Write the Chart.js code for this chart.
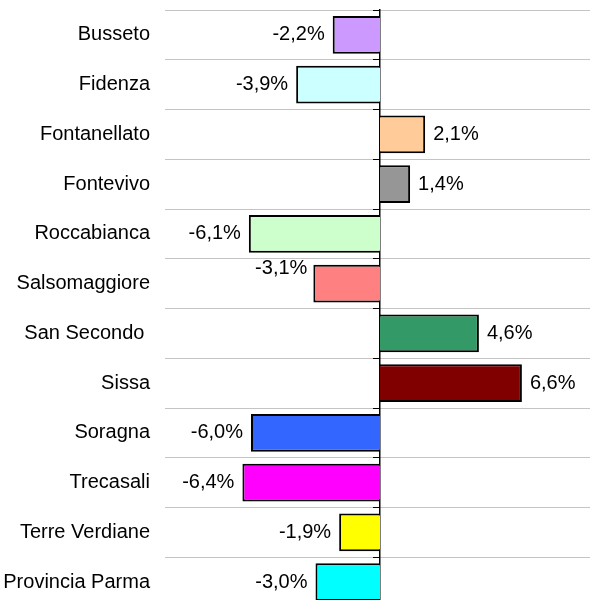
<!DOCTYPE html>
<html>
<head>
<meta charset="utf-8">
<script src="https://cdn.jsdelivr.net/npm/chart.js@4.4.1/dist/chart.umd.min.js"></script>
<style>
  html, body { margin: 0; padding: 0; background: #fff; }
  #wrap { width: 590px; height: 600px; overflow: hidden; position: relative; }
  #box { width: 600px; height: 620px; }
</style>
</head>
<body>
<div id="wrap"><div id="box"><canvas id="chart"></canvas></div></div>
<script>
const categories = [
  "Busseto", "Fidenza", "Fontanellato", "Fontevivo", "Roccabianca", "Salsomaggiore",
  "San Secondo ", "Sissa", "Soragna", "Trecasali", "Terre Verdiane", "Provincia Parma",
];
const changes = [-2.2, -3.9, 2.1, 1.4, -6.1, -3.1, 4.6, 6.6, -6.0, -6.4, -1.9, -3.0];
const barColors = [
  "#cc99ff", "#ccffff", "#ffcc99", "#969696", "#ccffcc", "#ff8080",
  "#339966", "#800000", "#3366ff", "#ff00ff", "#ffff00", "#00ffff",
];

const FONT = "'Liberation Sans', Arial, sans-serif";

// percent labels at the end of each bar, comma as decimal mark
const valueLabels = {
  id: "valueLabels",
  afterDatasetsDraw(chart) {
    const { ctx } = chart;
    const meta = chart.getDatasetMeta(0);
    ctx.save();
    ctx.font = `20px ${FONT}`;
    ctx.fillStyle = "#000";
    ctx.textBaseline = "middle";
    meta.data.forEach((bar, i) => {
      const v = changes[i];
      const text = v.toFixed(1).replace(".", ",") + "%";
      let y = bar.y;
      let x;
      if (v >= 0) {
        ctx.textAlign = "left";
        x = bar.x + 8;
      } else {
        ctx.textAlign = "right";
        x = bar.x - 8;
      }
      // this one sits a bit higher in the original
      if (categories[i] === "Salsomaggiore") {
        y -= 15;
        x += 2;
      }
      ctx.fillText(text, x, y);
    });
    ctx.restore();
  },
};

new Chart(document.getElementById("chart"), {
  type: "bar",
  data: {
    labels: categories,
    datasets: [
      {
        data: changes,
        backgroundColor: barColors,
        borderColor: "#000",
        borderWidth: 2,
        categoryPercentage: 1,
        barPercentage: 0.76,
      },
    ],
  },
  options: {
    indexAxis: "y",
    responsive: true,
    maintainAspectRatio: false,
    animation: false,
    layout: { padding: { top: 10, right: 5, bottom: 13, left: 0 } },
    plugins: {
      legend: { display: false },
      tooltip: { enabled: false },
    },
    scales: {
      x: {
        type: "linear",
        min: -10,
        max: 10,
        display: false,
      },
      y: {
        type: "category",
        position: "left",
        offset: true,
        grid: { offset: true, color: "#c4c4c4", lineWidth: 1, drawTicks: false },
        border: { display: false },
        ticks: { color: "#000", padding: 15, font: { family: FONT, size: 20 } },
        afterFit(scale) {
          scale.width = 165;
          scale.paddingTop = 0;
          scale.paddingBottom = 0;
        },
      },
      y2: {
        type: "category",
        position: { x: 0 },
        offset: true,
        grid: { offset: true, drawOnChartArea: false, drawTicks: true, tickLength: 6, color: "#000" },
        border: { display: true, color: "#000", width: 1.5 },
        ticks: { display: false },
      },
    },
  },
  plugins: [valueLabels],
});
</script>
</body>
</html>
